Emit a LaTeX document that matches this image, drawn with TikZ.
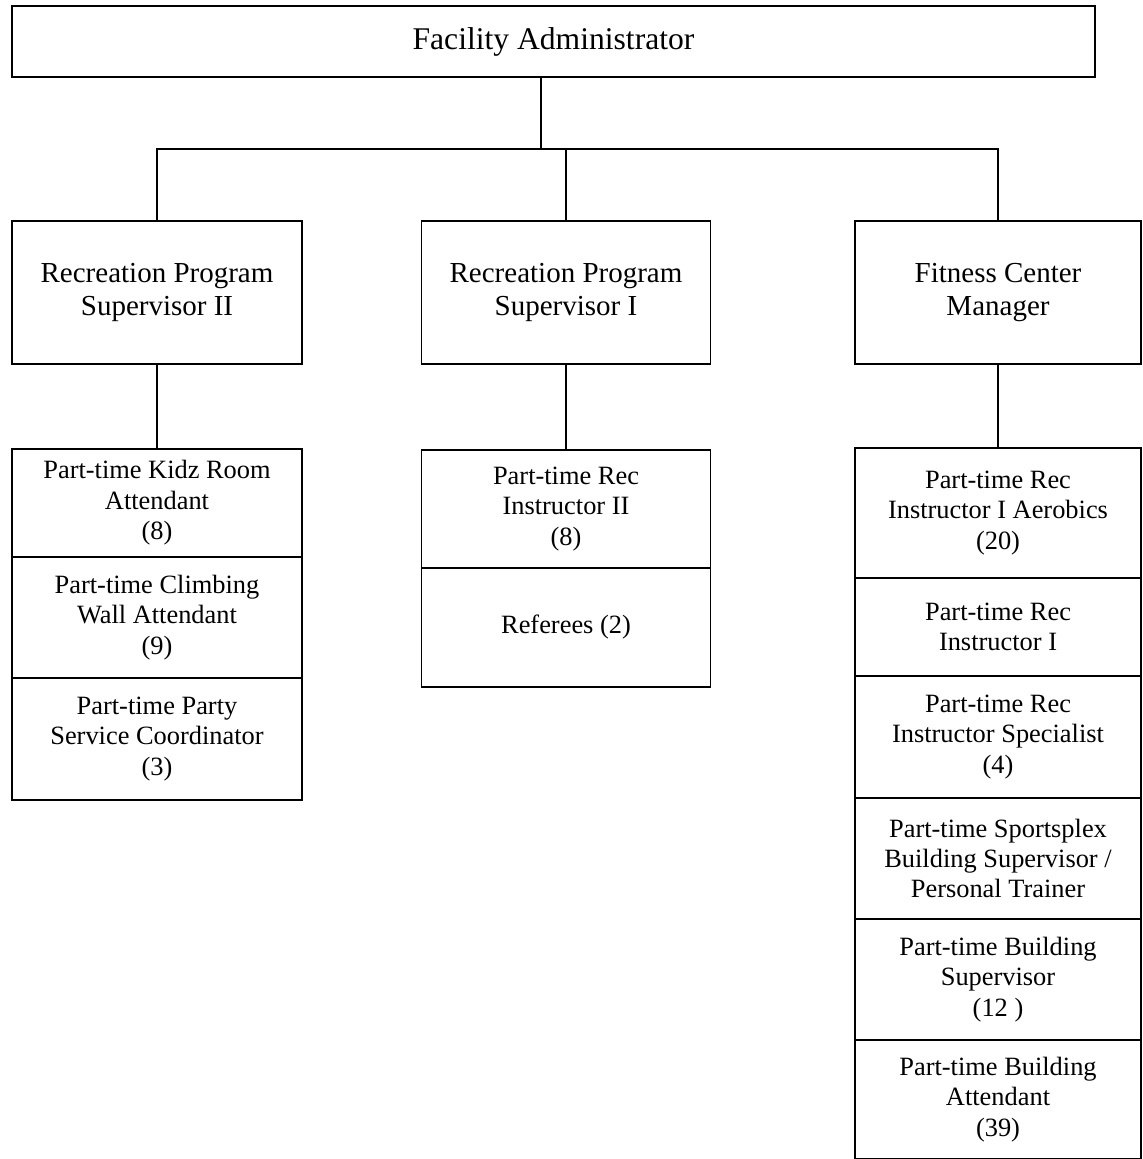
\documentclass[tikz,border=0pt]{standalone}
\usepackage{fontspec}
\setmainfont{Liberation Serif}
\tikzset{
  box/.style={draw, align=center, inner sep=0pt},
  head/.style={box, font=\fontsize{14.5}{16.5}\selectfont, minimum height=71.5pt},
  staff/.style={box, font=\fontsize{13.2}{15.2}\selectfont},
}
\begin{document}
\begin{tikzpicture}[x=0.5pt, y=-0.5pt, line width=0.9pt]
  \useasboundingbox (0,0) rectangle (1142,1159);
  % top of the chart
  \node[box, font=\fontsize{15.8}{18}\selectfont, minimum width=541.5pt, minimum height=35.5pt] (admin) at (553.5,41.5) {Facility Administrator};
  % supervisors
  \node[head, minimum width=145pt] (supB) at (157,292.5) {Recreation Program\\Supervisor II};
  \node[head, minimum width=144.5pt] (supA) at (566,292.5) {Recreation Program\\Supervisor I};
  \node[head, minimum width=143pt] (mgr) at (998,292.5) {Fitness Center\\Manager};
  % part-time staff under supervisor II
  \node[staff, minimum width=145pt, minimum height=54pt] (kidz) at (157,503) {Part-time Kidz Room\\Attendant\\(8)};
  \node[staff, minimum width=145pt, minimum height=60.5pt] (climb) at (157,617.5) {Part-time Climbing\\Wall Attendant\\(9)};
  \node[staff, minimum width=145pt, minimum height=61pt] (party) at (157,739) {Part-time Party\\Service Coordinator\\(3)};
  % part-time staff under supervisor I
  \node[staff, minimum width=144.5pt, minimum height=59pt] (recB) at (566,509) {Part-time Rec\\Instructor II\\(8)};
  \node[staff, minimum width=144.5pt, minimum height=59.5pt] (ref) at (566,627.5) {Referees (2)};
  % part-time staff under the manager
  \node[staff, minimum width=143pt, minimum height=65pt] (aero) at (998,513) {Part-time Rec\\Instructor I Aerobics\\(20)};
  \node[staff, minimum width=143pt, minimum height=49pt] (recA) at (998,627) {Part-time Rec\\Instructor I};
  \node[staff, minimum width=143pt, minimum height=60.5pt] (spec) at (998,737) {Part-time Rec\\Instructor Specialist\\(4)};
  \node[staff, minimum width=143pt, minimum height=60.5pt] (splex) at (998,858.5) {Part-time Sportsplex\\Building Supervisor /\\Personal Trainer};
  \node[staff, minimum width=143pt, minimum height=60.5pt] (bsup) at (998,979.5) {Part-time Building\\Supervisor\\(12 )};
  \node[staff, minimum width=143pt, minimum height=59.5pt] (batt) at (998,1099.5) {Part-time Building\\Attendant\\(39)};
  % connectors
  \coordinate (hub) at (541,149);
  \draw (admin.south -| hub) -- (hub);
  \draw (supB.north) |- (hub) -| (mgr.north);
  \draw (supA.north) -- (supA.north |- hub);
  \draw (supB.south) -- (kidz.north);
  \draw (supA.south) -- (recB.north);
  \draw (mgr.south) -- (aero.north);
\end{tikzpicture}
\end{document}
